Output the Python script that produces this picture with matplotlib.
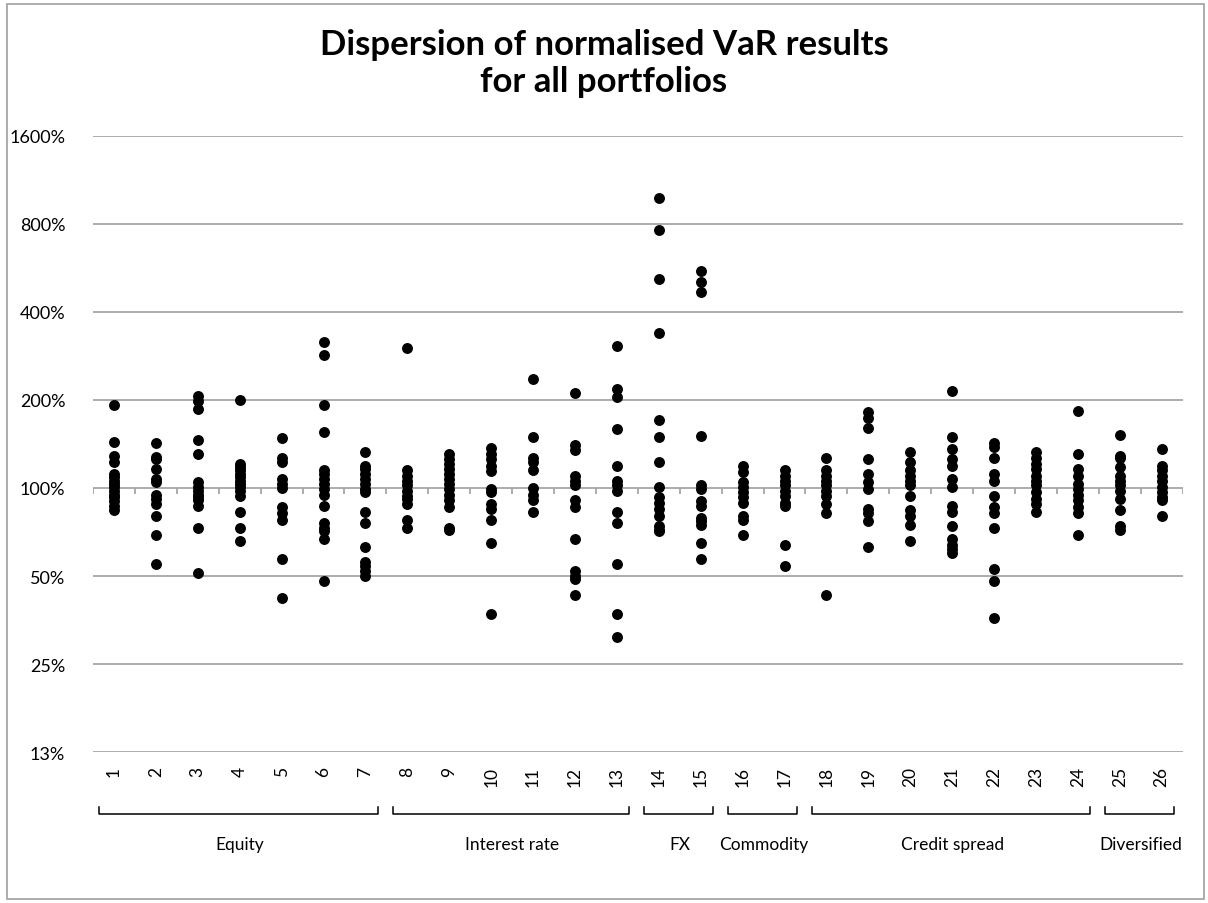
import numpy as np
import matplotlib
matplotlib.use("Agg")
import matplotlib.pyplot as plt
from matplotlib.patches import Rectangle
from matplotlib.ticker import FixedLocator, NullLocator

plt.rcParams['font.family'] = ['Lato', 'DejaVu Sans']

# normalised VaR results (%) per portfolio
portfolio_results = [
    [192, 144, 129, 123, 112, 109, 106, 103, 101, 98, 95, 93, 90, 87, 84],
    [143, 128, 126, 116, 107, 105, 95, 92, 88, 80, 69, 55],
    [207, 199, 187, 146, 131, 105, 101, 98, 95, 93, 91, 87, 73, 51],
    [200, 121, 118, 115, 112, 109, 106, 103, 101, 98, 94, 83, 73, 66],
    [148, 127, 123, 107, 103, 100, 86, 82, 78, 57, 42],
    [316, 285, 193, 156, 115, 112, 107, 103, 99, 95, 87, 76, 73, 71, 67, 48],
    [133, 119, 116, 112, 107, 103, 99, 97, 83, 76, 63, 56, 54, 52, 50],
    [301, 115, 110, 106, 102, 98, 94, 92, 88, 78, 73],
    [131, 126, 121, 116, 112, 107, 103, 99, 95, 91, 86, 73, 72],
    [137, 131, 126, 119, 114, 99, 97, 88, 85, 78, 65, 37],
    [236, 149, 127, 123, 115, 100, 95, 91, 83],
    [211, 140, 135, 110, 106, 102, 91, 86, 67, 52, 50, 49, 43],
    [305, 218, 204, 159, 119, 106, 102, 98, 83, 76, 55, 37, 31],
    [979, 765, 519, 339, 171, 149, 123, 101, 93, 89, 85, 80, 74, 72, 71],
    [554, 505, 467, 151, 102, 99, 90, 87, 79, 77, 75, 65, 57],
    [119, 113, 105, 101, 97, 93, 89, 80, 78, 69],
    [115, 110, 106, 102, 98, 94, 89, 87, 64, 54],
    [127, 115, 110, 106, 102, 98, 94, 88, 82, 43],
    [182, 173, 160, 126, 112, 105, 99, 85, 82, 77, 63],
    [133, 123, 115, 110, 106, 102, 94, 84, 80, 75, 66],
    [214, 150, 136, 126, 119, 107, 101, 87, 83, 74, 67, 64, 62, 60],
    [143, 138, 127, 112, 106, 94, 86, 82, 73, 53, 48, 36],
    [133, 127, 121, 116, 110, 106, 102, 97, 92, 88, 83],
    [184, 131, 116, 110, 103, 99, 95, 91, 86, 82, 69],
    [152, 129, 127, 118, 110, 106, 102, 98, 92, 84, 74, 72],
    [136, 119, 115, 110, 106, 101, 97, 93, 91, 80],
]
portfolio_labels = [str(i) for i in range(1, 27)]

groups = ['Equity', 'Interest rate', 'FX', 'Commodity', 'Credit spread', 'Diversified']
group_sizes = [7, 6, 2, 2, 7, 2]

y_ticks = [12.5, 25, 50, 100, 200, 400, 800, 1600]
y_tick_labels = ['13%', '25%', '50%', '100%', '200%', '400%', '800%', '1600%']

fig = plt.figure(figsize=(12.08, 9.04), dpi=100)
ax = fig.add_axes([0.077, 0.167, 0.902, 0.6815])

for i, vals in enumerate(portfolio_results):
    x = np.full(len(vals), i + 1)
    ax.scatter(x, vals, s=62, color='black', zorder=3, linewidths=0)

ax.set_yscale('log', base=2)
ax.set_ylim(12.5, 1600)
ax.set_xlim(0.5, len(portfolio_results) + 0.5)
ax.yaxis.set_major_locator(FixedLocator(y_ticks))
ax.yaxis.set_minor_locator(NullLocator())
ax.set_yticklabels(y_tick_labels, fontsize=13)
ax.tick_params(axis='y', length=0, pad=20)

ax.set_xticks(range(1, len(portfolio_labels) + 1))
ax.set_xticklabels(portfolio_labels, rotation=90, fontsize=12.5)
ax.tick_params(axis='x', length=0, pad=10)

for s in ax.spines.values():
    s.set_visible(False)
ax.grid(axis='y', color='#a6a6a6', linewidth=1.3, zorder=1)

# category axis crossing at 100% with tick marks between portfolios
bounds = np.arange(len(portfolio_results) + 1) + 0.5
ax.vlines(bounds, 100 * 2 ** (-6 / 88), 100, color='#a6a6a6', linewidth=1.3, zorder=2)

# group brackets under the portfolio numbers
trans = ax.get_xaxis_transform()
start = 0.5
for name, n in zip(groups, group_sizes):
    x0, x1 = start + 0.15, start + n - 0.2
    ax.plot([x0, x0, x1, x1], [-0.089, -0.1006, -0.1006, -0.089], transform=trans,
            color='black', linewidth=1.1, clip_on=False)
    ax.text(start + n / 2, -0.149, name, transform=trans, ha='center', va='center',
            fontsize=12.5)
    start += n

fig.text(0.5, 0.93, 'Dispersion of normalised VaR results\nfor all portfolios',
         ha='center', va='center', fontsize=25, fontweight='bold', linespacing=1.2)

fig.patches.append(Rectangle((0.006, 0.004), 0.991, 0.99, transform=fig.transFigure,
                             fill=False, edgecolor='#a6a6a6', linewidth=1.3))

fig.savefig('out.png', dpi=100)
